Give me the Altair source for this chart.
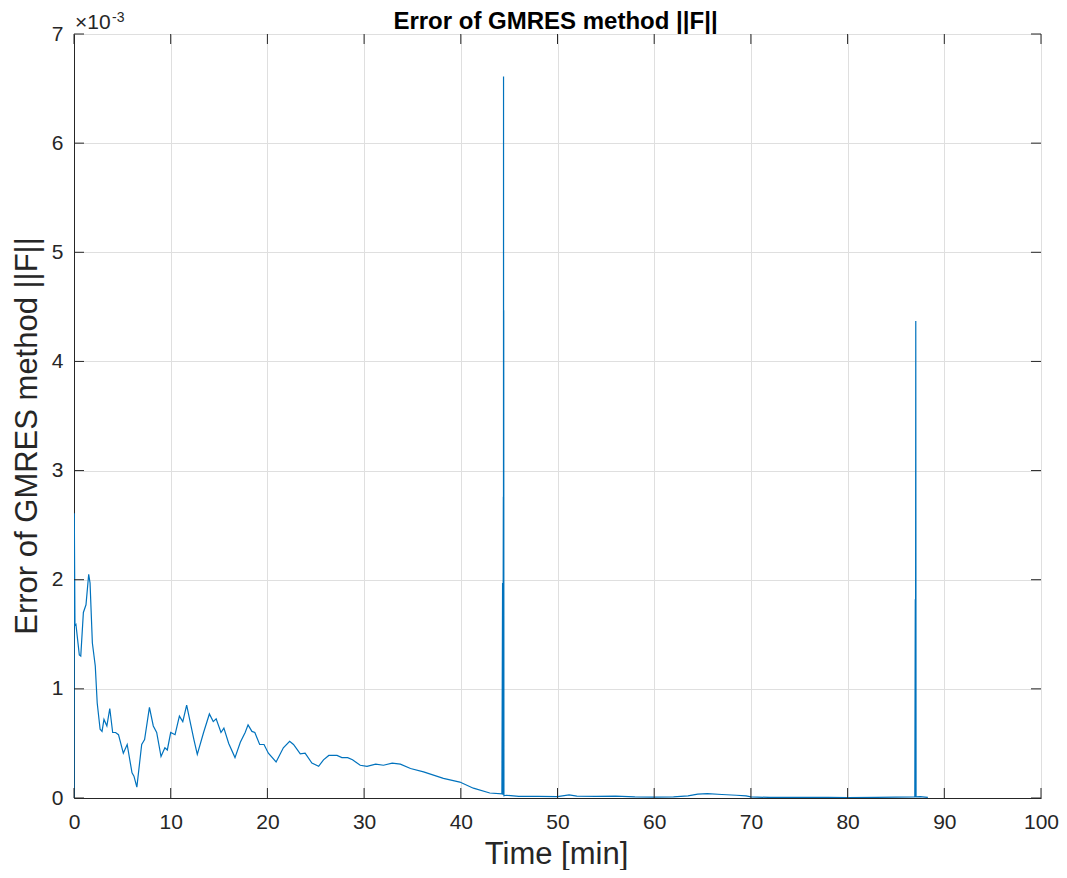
import altair as alt
import pandas as pd

# ---- data (error values in units of 1e-3) ----
time_min = [
    0.0, 0.03, 0.1, 0.2, 0.55, 0.7, 0.97, 1.24, 1.52, 1.66, 1.9, 2.2, 2.4, 2.7, 2.9,
    3.1, 3.4, 3.7, 4.0, 4.3, 4.6, 5.1, 5.5, 6.0, 6.2, 6.5, 7.0, 7.3, 7.8, 8.2,
    8.55, 9.0, 9.4, 9.65, 10.0, 10.45, 10.9, 11.25, 11.65, 12.1, 12.4, 12.75, 13.4,
    14.0, 14.4, 14.7, 15.2, 15.5, 16.0, 16.65, 17.2, 17.7, 18.0, 18.4, 18.7, 19.2,
    19.65, 20.1, 20.9, 21.65, 22.3, 22.7, 23.4, 23.9, 24.6, 25.3, 25.8, 26.35,
    27.2, 27.7, 28.3, 28.8, 29.6, 30.3, 31.2, 32.0, 32.9, 33.75, 34.8, 36.15,
    38.2, 39.9, 41.3, 43.0, 44.25, 44.32, 44.34, 44.40, 44.41, 44.42, 44.43,
    44.44, 44.46, 44.7, 46.0, 48.0, 50.0, 51.2, 52.0, 54.0, 56.0, 58.0, 60.0,
    62.0, 63.5, 64.5, 65.5, 67.0, 68.5, 69.5, 70.0, 72.0, 75.0, 78.0, 80.0, 83.0,
    85.0, 86.95, 87.0, 87.02, 87.05, 87.08, 87.5, 88.0, 88.3,
]
error_e3 = [
    0.0, 2.61, 1.58, 1.59, 1.31, 1.30, 1.70, 1.77, 2.05, 1.97, 1.42, 1.21, 0.87, 0.63, 0.61,
    0.72, 0.66, 0.82, 0.60, 0.60, 0.58, 0.41, 0.49, 0.23, 0.20, 0.10, 0.49, 0.535, 0.83, 0.66,
    0.60, 0.38, 0.46, 0.44, 0.60, 0.58, 0.75, 0.70, 0.85, 0.66, 0.535, 0.40, 0.60,
    0.77, 0.70, 0.725, 0.60, 0.64, 0.50, 0.37, 0.51, 0.60, 0.67, 0.61, 0.60, 0.49,
    0.49, 0.41, 0.33, 0.46, 0.52, 0.49, 0.405, 0.41, 0.32, 0.29, 0.35, 0.39,
    0.39, 0.37, 0.37, 0.35, 0.30, 0.29, 0.31, 0.30, 0.32, 0.31, 0.27, 0.24,
    0.18, 0.146, 0.09, 0.046, 0.037, 1.97, 0.03, 2.76, 0.03, 6.61, 0.03,
    4.47, 0.02, 0.025, 0.015, 0.015, 0.012, 0.028, 0.018, 0.015, 0.018, 0.01, 0.008,
    0.01, 0.02, 0.035, 0.04, 0.032, 0.025, 0.02, 0.01, 0.005, 0.005, 0.006, 0.004, 0.006,
    0.008, 0.01, 1.82, 0.01, 4.37, 0.01, 0.012, 0.008, 0.005,
]
x_ticks = [0, 10, 20, 30, 40, 50, 60, 70, 80, 90, 100]
y_ticks = [0, 1, 2, 3, 4, 5, 6, 7]

title_text = "Error of GMRES method ||F||"
x_title = "Time [min]"
y_title = "Error of GMRES method ||F||"

W, H = 967, 764
FONT = "Liberation Sans"
DARK = "#262626"
GRID = "#dfdfdf"
LINE = "#0072BD"
TICK_LEN = 10

df = pd.DataFrame({"t": time_min, "v": error_e3})
xs = alt.Scale(domain=[0, 100], nice=False, zero=False)
ys = alt.Scale(domain=[0, 7], nice=False, zero=False)

line = alt.Chart(df).mark_line(color=LINE, strokeWidth=1.2, clip=True).encode(
    x=alt.X("t:Q", scale=xs,
            axis=alt.Axis(values=x_ticks, title=None, grid=True, gridColor=GRID,
                          ticks=False, domainColor=DARK, labelColor=DARK, format="d",
                          labelFont=FONT, labelFontSize=21, labelPadding=13,
                          labelFlush=False, labelOverlap=False)),
    y=alt.Y("v:Q", scale=ys,
            axis=alt.Axis(values=y_ticks, title=None, grid=True, gridColor=GRID,
                          ticks=False, domainColor=DARK, labelColor=DARK, format="d",
                          labelFont=FONT, labelFontSize=21, labelPadding=11,
                          labelFlush=False, labelOverlap=False)),
    order="t:Q",
)

xt = pd.DataFrame({"x": x_ticks})
yt = pd.DataFrame({"y": y_ticks})
tick_bottom = alt.Chart(xt).mark_rule(color=DARK, strokeWidth=1).encode(
    x=alt.X("x:Q", scale=xs), y=alt.value(H), y2=alt.value(H - TICK_LEN))
tick_top = alt.Chart(xt).mark_rule(color=DARK, strokeWidth=1).encode(
    x=alt.X("x:Q", scale=xs), y=alt.value(0), y2=alt.value(TICK_LEN))
tick_left = alt.Chart(yt).mark_rule(color=DARK, strokeWidth=1).encode(
    y=alt.Y("y:Q", scale=ys), x=alt.value(0), x2=alt.value(TICK_LEN))
tick_right = alt.Chart(yt).mark_rule(color=DARK, strokeWidth=1).encode(
    y=alt.Y("y:Q", scale=ys), x=alt.value(W), x2=alt.value(W - TICK_LEN))

one = pd.DataFrame({"a": [0]})
title_mark = alt.Chart(one).mark_text(
    text=title_text, font=FONT, fontSize=24, fontWeight="bold", color="black",
    align="center", baseline="alphabetic").encode(x=alt.value(W / 2 - 2), y=alt.value(-5))
xtitle_mark = alt.Chart(one).mark_text(
    text=x_title, font=FONT, fontSize=31, color=DARK,
    align="center", baseline="alphabetic").encode(x=alt.value(W / 2 - 1), y=alt.value(830))
ytitle_mark = alt.Chart(one).mark_text(
    text=y_title, font=FONT, fontSize=31, color=DARK, angle=270,
    align="center", baseline="alphabetic").encode(x=alt.value(-37), y=alt.value(402))
exp_base = alt.Chart(one).mark_text(
    text="×10", font=FONT, fontSize=21, color=DARK,
    align="left", baseline="alphabetic").encode(x=alt.value(1), y=alt.value(-5))
exp_sup = alt.Chart(one).mark_text(
    text="-3", font=FONT, fontSize=14, color=DARK,
    align="left", baseline="alphabetic").encode(x=alt.value(38), y=alt.value(-12))

chart = alt.layer(
    line, tick_bottom, tick_top, tick_left, tick_right,
    title_mark, xtitle_mark, ytitle_mark, exp_base, exp_sup,
).properties(
    width=W, height=H,
    autosize=alt.AutoSizeParams(type="none"),
    padding={"left": 66, "top": 26, "right": 18, "bottom": 72},
).configure_view(
    stroke=DARK, strokeWidth=1
).configure(background="white")

chart.save("out.html", embed_options={"renderer": "svg", "actions": False})
